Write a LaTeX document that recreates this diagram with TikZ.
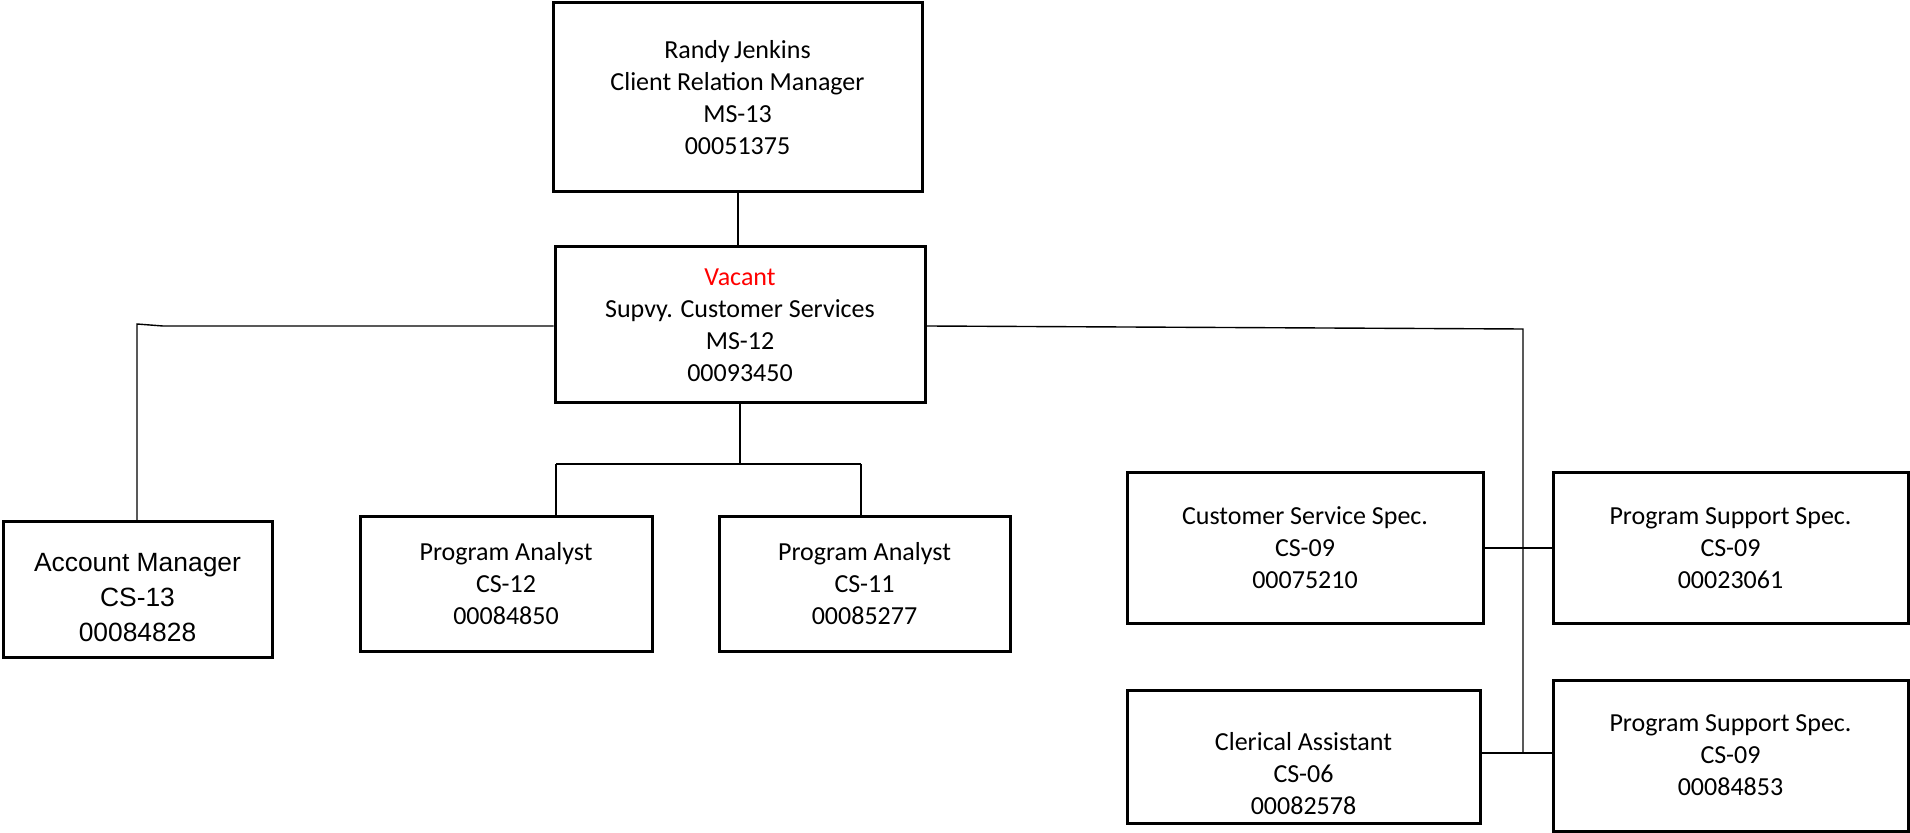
\documentclass[tikz,border=0pt]{standalone}
\usepackage{fontspec}
\setmainfont{Carlito}
\newfontfamily\arialfont{Liberation Sans}
\definecolor{vacred}{RGB}{255,0,0}
\begin{document}
\begin{tikzpicture}[x=0.5pt,y=-0.5pt,
  posbox/.style={draw=black, line width=1.5pt, fill=white, rectangle, inner sep=0pt,
    align=center, font=\fontsize{13}{16}\selectfont},
  link/.style={draw=black, line width=0.7pt}]
\useasboundingbox (0,0) rectangle (1910,833);

% positions
\node[posbox, minimum width=184.5pt, minimum height=94.5pt] (top) at (737.5,97.5)
  {Randy\,Jenkins\\Client Relation Manager\\MS-13\\00051375};
\node[posbox, minimum width=185pt, minimum height=78pt] (vac) at (740,325)
  {\textcolor{vacred}{Vacant}\\Supvy. Customer Services\\MS-12\\00093450};
\node[posbox, minimum width=134.5pt, minimum height=67.5pt] (acc) at (137.5,589.5) {};
\node[align=center, font=\arialfont\fontsize{13.2}{17.5}\selectfont] at ([yshift=-4pt]acc.center)
  {Account Manager\\CS-13\\00084828};
\node[posbox, minimum width=146pt, minimum height=67pt] (pa1) at (506,584)
  {Program Analyst\\CS-12\\00084850};
\node[posbox, minimum width=145.5pt, minimum height=67pt] (pa2) at (864.5,584)
  {Program Analyst\\CS-11\\00085277};
\node[posbox, minimum width=178pt, minimum height=75pt] (css) at (1305,548)
  {Customer Service Spec.\\CS-09\\00075210};
\node[posbox, minimum width=177.5pt, minimum height=75pt] (pss1) at (1730.5,548)
  {Program Support Spec.\\CS-09\\00023061};
\node[posbox, minimum width=176.5pt, minimum height=66.5pt] (cler) at (1303.5,756.5) {};
\node[align=center, font=\fontsize{13}{16}\selectfont] at ([yshift=-8.5pt]cler.center)
  {Clerical Assistant\\CS-06\\00082578};
\node[posbox, minimum width=177.5pt, minimum height=75.5pt] (pss2) at (1730.5,755.5)
  {Program Support Spec.\\CS-09\\00084853};

% junction points
\coordinate (lbend) at (163,326);
\coordinate (lcorner) at (137,324);
\coordinate (rcorner) at (1523,329);
\coordinate (rlow) at (1523,753);
\coordinate (mid) at (740,464);
\coordinate (pal) at (556,464);
\coordinate (par) at (861,464);

% connectors
\draw[link] (top.south -| 738,0) -- (738,0 |- vac.north);
\draw[link] (vac.west |- lbend) -- (lbend) -- (lcorner) -- (lcorner |- acc.north);
\draw[link] (vac.east |- 0,326) -- (rcorner) -- (rlow);
\draw[link] (css.east) -- (pss1.west);
\draw[link] (cler.east |- rlow) -- (pss2.west |- rlow);
\draw[link] (vac.south) -- (mid);
\draw[link] (pal) -- (par);
\draw[link] (pal) -- (pal |- pa1.north);
\draw[link] (par) -- (par |- pa2.north);
\end{tikzpicture}
\end{document}
